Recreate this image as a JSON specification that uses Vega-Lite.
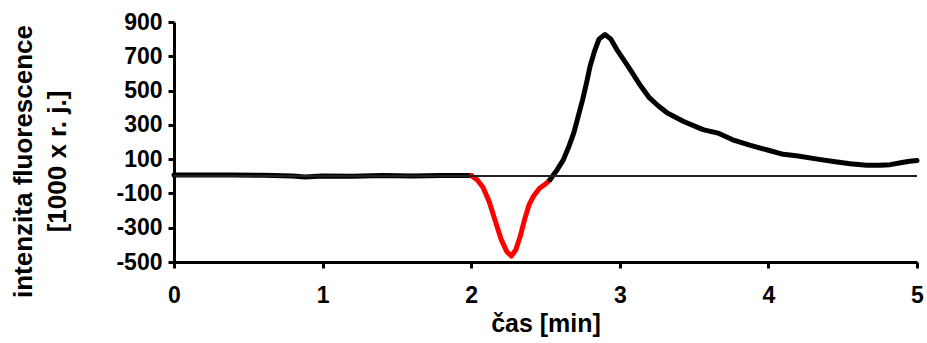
{
  "$schema": "https://vega.github.io/schema/vega-lite/v6.json",
  "width": 743,
  "height": 240,
  "autosize": {"type": "none"},
  "padding": {"left": 174, "top": 22, "right": 10, "bottom": 81},
  "background": "white",
  "config": {
    "view": {"stroke": null},
    "font": "Liberation Sans",
    "axis": {
      "grid": false,
      "domainColor": "black",
      "domainWidth": 3,
      "tickColor": "black",
      "tickWidth": 3,
      "tickSize": 6,
      "labelFont": "Liberation Sans",
      "labelFontWeight": "bold",
      "labelFontSize": 23,
      "labelColor": "black",
      "labelFlush": false,
      "labelOverlap": false,
      "titleFont": "Liberation Sans",
      "titleFontWeight": "bold",
      "titleFontSize": 25,
      "titleColor": "black"
    }
  },
  "data": {
    "values": [
      {"t": 0.0, "v": 8, "seg": "a"},
      {"t": 0.2, "v": 8, "seg": "a"},
      {"t": 0.4, "v": 7, "seg": "a"},
      {"t": 0.6, "v": 6, "seg": "a"},
      {"t": 0.8, "v": 2, "seg": "a"},
      {"t": 0.88, "v": -4, "seg": "a"},
      {"t": 1.0, "v": 2, "seg": "a"},
      {"t": 1.2, "v": 0, "seg": "a"},
      {"t": 1.4, "v": 4, "seg": "a"},
      {"t": 1.6, "v": 2, "seg": "a"},
      {"t": 1.8, "v": 4, "seg": "a"},
      {"t": 2.0, "v": 4, "seg": "a"},
      {"t": 2.0, "v": 4, "seg": "b"},
      {"t": 2.04, "v": -20, "seg": "b"},
      {"t": 2.08, "v": -65, "seg": "b"},
      {"t": 2.12, "v": -145, "seg": "b"},
      {"t": 2.16, "v": -255, "seg": "b"},
      {"t": 2.2, "v": -365, "seg": "b"},
      {"t": 2.24, "v": -440, "seg": "b"},
      {"t": 2.27, "v": -465, "seg": "b"},
      {"t": 2.3, "v": -430, "seg": "b"},
      {"t": 2.33, "v": -350, "seg": "b"},
      {"t": 2.36, "v": -250, "seg": "b"},
      {"t": 2.39, "v": -165, "seg": "b"},
      {"t": 2.42, "v": -115, "seg": "b"},
      {"t": 2.46, "v": -70, "seg": "b"},
      {"t": 2.5, "v": -45, "seg": "b"},
      {"t": 2.53, "v": -20, "seg": "b"},
      {"t": 2.53, "v": -20, "seg": "c"},
      {"t": 2.58, "v": 40, "seg": "c"},
      {"t": 2.62, "v": 96, "seg": "c"},
      {"t": 2.66, "v": 180, "seg": "c"},
      {"t": 2.69, "v": 252, "seg": "c"},
      {"t": 2.72, "v": 350, "seg": "c"},
      {"t": 2.75, "v": 447, "seg": "c"},
      {"t": 2.78, "v": 560, "seg": "c"},
      {"t": 2.8, "v": 642, "seg": "c"},
      {"t": 2.83, "v": 730, "seg": "c"},
      {"t": 2.86, "v": 800, "seg": "c"},
      {"t": 2.9, "v": 827, "seg": "c"},
      {"t": 2.94, "v": 800, "seg": "c"},
      {"t": 2.98, "v": 739, "seg": "c"},
      {"t": 3.03, "v": 675, "seg": "c"},
      {"t": 3.07, "v": 622, "seg": "c"},
      {"t": 3.13, "v": 540, "seg": "c"},
      {"t": 3.2, "v": 457, "seg": "c"},
      {"t": 3.26, "v": 410, "seg": "c"},
      {"t": 3.32, "v": 369, "seg": "c"},
      {"t": 3.43, "v": 320, "seg": "c"},
      {"t": 3.56, "v": 272, "seg": "c"},
      {"t": 3.66, "v": 252, "seg": "c"},
      {"t": 3.76, "v": 213, "seg": "c"},
      {"t": 3.88, "v": 180, "seg": "c"},
      {"t": 4.0, "v": 152, "seg": "c"},
      {"t": 4.1, "v": 128, "seg": "c"},
      {"t": 4.2, "v": 118, "seg": "c"},
      {"t": 4.33, "v": 100, "seg": "c"},
      {"t": 4.45, "v": 85, "seg": "c"},
      {"t": 4.55, "v": 73, "seg": "c"},
      {"t": 4.66, "v": 65, "seg": "c"},
      {"t": 4.75, "v": 65, "seg": "c"},
      {"t": 4.82, "v": 68, "seg": "c"},
      {"t": 4.9, "v": 80, "seg": "c"},
      {"t": 4.95, "v": 88, "seg": "c"},
      {"t": 5.0, "v": 92, "seg": "c"}
    ]
  },
  "layer": [
    {
      "mark": {"type": "line", "strokeWidth": 5, "strokeJoin": "round", "strokeCap": "round"},
      "encoding": {
        "x": {
          "field": "t",
          "type": "quantitative",
          "scale": {"domain": [0, 5], "nice": false},
          "axis": {
            "values": [0, 1, 2, 3, 4, 5],
            "tickCount": 10,
            "labelExpr": "'' + datum.value",
            "title": "čas [min]",
            "labelPadding": 16,
            "titlePadding": 4
          }
        },
        "y": {
          "field": "v",
          "type": "quantitative",
          "scale": {"domain": [-500, 900], "nice": false, "zero": false},
          "axis": {
            "values": [-500, -300, -100, 100, 300, 500, 700, 900],
            "tickCount": 12,
            "labelExpr": "'' + datum.value",
            "title": ["intenzita fluorescence", "[1000 x r. j.]"],
            "titleFontSize": 26,
            "titleLineHeight": 34,
            "labelPadding": 6,
            "titlePadding": 45,
            "titleY": 139
          }
        },
        "color": {
          "field": "seg",
          "type": "nominal",
          "scale": {"domain": ["a", "b", "c"], "range": ["black", "#ff0000", "black"]},
          "legend": null
        }
      }
    },
    {
      "mark": {"type": "rule", "color": "#222", "strokeWidth": 1.5},
      "encoding": {"y": {"datum": 0, "type": "quantitative"}}
    }
  ]
}
